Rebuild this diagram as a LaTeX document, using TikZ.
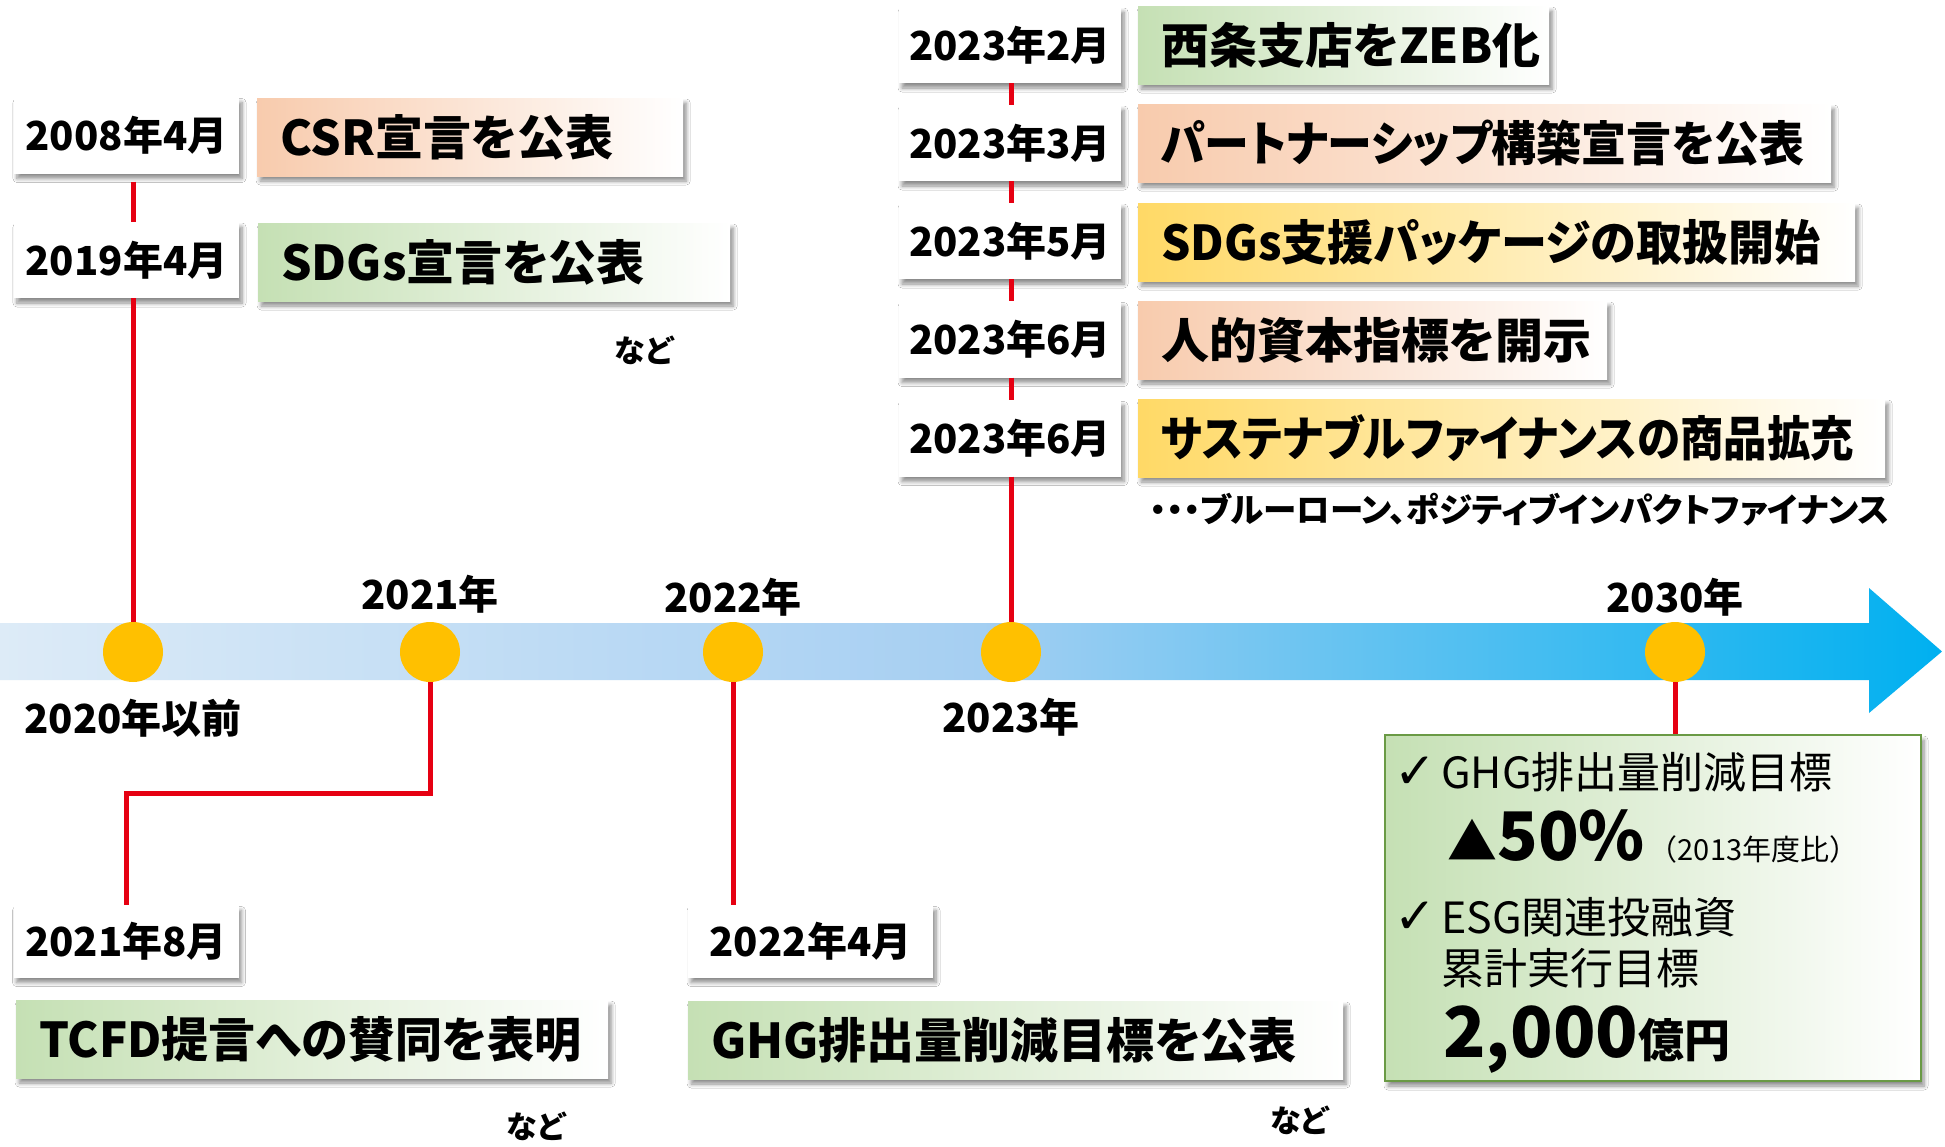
\documentclass[tikz,border=0pt]{standalone}
\usepackage{fontspec}
\newfontfamily\jp{Noto Sans CJK JP}[CharacterWidth=AlternateProportional]
\newfontfamily\jpf{Noto Sans CJK JP}
\newfontfamily\dv{DejaVu Sans}
\usetikzlibrary{shadows,fadings,shadows.blur}
\definecolor{peach}{HTML}{F8CBAD}
\definecolor{lgreen}{HTML}{C5E0B4}
\definecolor{lyellow}{HTML}{FFD966}
\definecolor{tred}{HTML}{E60012}
\definecolor{dotc}{HTML}{FFC000}
\definecolor{bandL}{HTML}{DDEBF7}
\definecolor{bandM}{HTML}{A6CFF2}
\definecolor{bandR}{HTML}{00B0F0}
\definecolor{goalline}{HTML}{6A9A45}
\newcommand\fs[1]{\fontsize{#1}{#1}\selectfont}
\tikzset{
 x=1pt,y=-1pt,
 shad/.style={blur shadow={shadow xshift=3pt,shadow yshift=-5pt,shadow blur radius=4pt,shadow blur steps=6,shadow opacity=45}},
 datebox/.style={shad,fill=white,inner sep=0pt,font=\jp\bfseries\fs{40},minimum width=225pt,minimum height=76pt},
 tbox/.style={shad,left color=#1,right color=white,inner xsep=23pt,inner ysep=0pt,anchor=west,font=\jp\bfseries\fs{48},minimum height=78pt},
 yearlab/.style={font=\jp\bfseries\fs{40},inner sep=0pt},
 nado/.style={font=\jp\bfseries\fs{31},inner sep=0pt},
 dot/.style={circle,fill=dotc,minimum size=60pt,inner sep=0pt},
 link/.style={draw=tred,line width=5pt},
 goalbox/.style={shad,left color=lgreen,right color=white,draw=goalline,line width=2pt,minimum width=536pt,minimum height=346pt,inner sep=0pt},
 gtext/.style={font=\jp\fs{43},inner sep=0pt,anchor=west},
}
\newcommand\TB[5]{\node[tbox=#3,minimum width=#4pt] (#1) at (#2) {\makebox[\dimexpr#4pt-46pt\relax][l]{#5}};}
\newcommand\chk{\makebox[36pt][r]{\dv\fs{50}✓\hspace{5pt}}}
\begin{document}
\begin{tikzpicture}
\useasboundingbox (0,0) rectangle (1945,1146);
\fill[white] (0,0) rectangle (1945,1146);
\shade[left color=bandL,right color=bandR,middle color=bandM] (0,623) -- (1869,623) -- (1869,588) -- (1942,651.5) -- (1869,713) -- (1869,680) -- (0,680) -- cycle;
% dots
\node[dot] (c2020) at (133,652) {};
\node[dot] (c2021) at (430,652) {};
\node[dot] (c2022) at (733,652) {};
\node[dot] (c2023) at (1011,652) {};
\node[dot] (c2030) at (1675,652) {};
% year labels
\node[yearlab] (y2021) at (430,594) {2021年};
\node[yearlab] (y2022) at (733,597) {2022年};
\node[yearlab] (y2030) at (1675,597) {2030年};
\node[yearlab] (y2020) at (133,718) {2020年以前};
\node[yearlab] (y2023) at (1011,717) {2023年};
% left column
\node[datebox] (d2008) at (126.5,135.5) {2008年4月};
\TB{t2008}{257,137}{peach}{426}{CSR宣言を公表}
\node[datebox] (d2019) at (126.5,260) {2019年4月};
\TB{t2019}{258,262}{lgreen}{472}{SDGs宣言を公表}
\node[nado] (n1) at (644,350) {など};
% right column
\node[datebox,minimum width=222pt] (d23a) at (1010,45) {2023年2月};
\TB{t23a}{1138,45}{lgreen}{411}{西条支店をZEB化}
\node[datebox,minimum width=222pt] (d23b) at (1010,143) {2023年3月};
\TB{t23b}{1138,143}{peach}{693}{\scalebox{0.935}[1]{パートナーシップ構築宣言を公表}}
\node[datebox,minimum width=222pt] (d23c) at (1010,241) {2023年5月};
\TB{t23c}{1138,242}{lyellow}{717}{\scalebox{0.96}[1]{SDGs支援パッケージの取扱開始}}
\node[datebox,minimum width=222pt] (d23d) at (1010,339.5) {2023年6月};
\TB{t23d}{1138,340}{peach}{469}{人的資本指標を開示}
\node[datebox,minimum width=222pt] (d23e) at (1010,438.5) {2023年6月};
\TB{t23e}{1138,438}{lyellow}{747}{\scalebox{0.905}[1]{サステナブルファイナンスの商品拡充}}
\node[font=\jp\bfseries\fs{33.5},anchor=west,inner sep=0pt] (note) at (1150,510) {・・・ブルーローン、ポジティブインパクトファイナンス};
% bottom
\node[datebox,minimum height=72pt] (d2021) at (126,941.5) {2021年8月};
\TB{t2021}{16,1039}{lgreen}{592}{\scalebox{0.98}[1]{TCFD提言への賛同を表明}}
\node[nado] (n2) at (536,1126) {など};
\node[datebox,minimum width=245pt,minimum height=72pt] (d2022) at (810.5,941.5) {2022年4月};
\TB{t2022}{688,1040}{lgreen}{655}{GHG排出量削減目標を公表}
\node[nado] (n3) at (1299,1120) {など};
% goal
\node[goalbox] (goal) at (1653,908) {};
\node[gtext] (g1) at (1405,772) {\chk GHG排出量削減目標};
\node[inner sep=0pt,anchor=base west,font=\jp] (g2) at (1447,860) {{\fs{50}▲}{\bfseries\fs{67}50\%}\hspace{4pt}{\jpf\fs{29}（2013年度比）}};
\node[gtext] (g3) at (1405,917) {\chk ESG関連投融資};
\node[gtext] (g4) at (1441,968) {累計実行目標};
\node[inner sep=0pt,anchor=base west,font=\jp\bfseries] (g5) at (1443,1057) {{\fs{70}2,000}{\fs{46}億円}};
% links
\coordinate (turn) at (126,793);
\draw[link,shorten <=8pt] (c2020 |- d2008.south) -- (c2020 |- d2019.north);
\draw[link] (c2020 |- d2019.south) -- (c2020.north);
\draw[link] (c2021.south) |- (turn) -- (d2021.north);
\draw[link] (c2022.south) -- (c2022 |- d2022.north);
\draw[link] (c2023 |- d23a.south) -- (c2023 |- d23b.north);
\draw[link] (c2023 |- d23b.south) -- (c2023 |- d23c.north);
\draw[link] (c2023 |- d23c.south) -- (c2023 |- d23d.north);
\draw[link] (c2023 |- d23d.south) -- (c2023 |- d23e.north);
\draw[link] (c2023 |- d23e.south) -- (c2023.north);
\draw[link] (c2030.south) -- (c2030 |- goal.north);
\end{tikzpicture}
\end{document}
